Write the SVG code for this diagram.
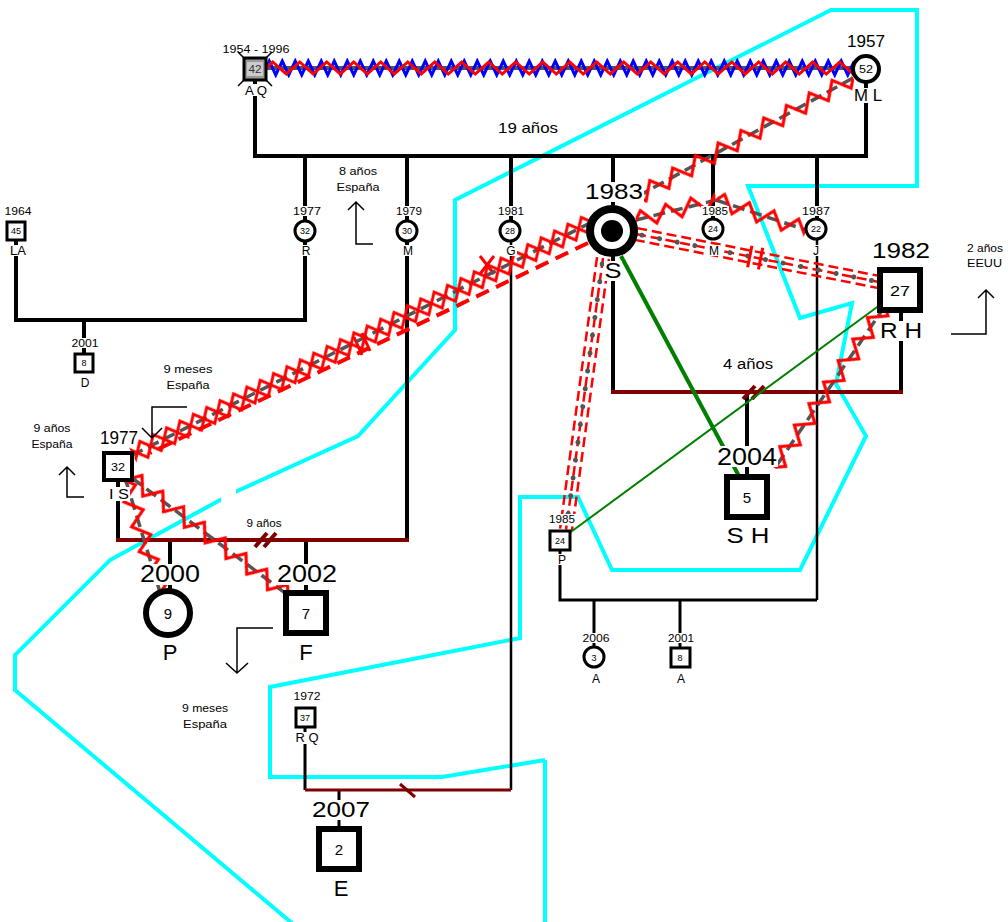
<svg xmlns="http://www.w3.org/2000/svg" width="1008" height="922" viewBox="0 0 1008 922">
<style>
text{font-family:"Liberation Sans",Arial,sans-serif;text-anchor:middle;fill:#000}
.bg{fill:#fff}
.k{stroke:#000;fill:none;stroke-width:4}
.k3{stroke:#000;fill:none;stroke-width:3}
.k2{stroke:#000;fill:none;stroke-width:2.5}
.dr{stroke:#800000;fill:none;stroke-width:4}
.dr3{stroke:#800000;fill:none;stroke-width:3}
.gd{stroke:#555;stroke-width:3.5;stroke-dasharray:12 6;fill:none}
.gs{stroke:#555;stroke-width:4;fill:none}
.rd{stroke:#f00;stroke-width:2.5;stroke-dasharray:10 5}
.gdot{stroke:#555;stroke-width:5;stroke-linecap:round;stroke-dasharray:0 18}
.rdash{stroke:#f00;stroke-width:4;stroke-dasharray:14 8;fill:none}
.rm{stroke:#f00;stroke-width:3}
.ar{stroke:#000;stroke-width:1.5;fill:none}
.cy{stroke:#00ffff;stroke-width:4;fill:none;stroke-linejoin:miter}
.s3{fill:#fff;stroke:#000;stroke-width:3}
.s4{fill:#fff;stroke:#000;stroke-width:4}
.s6{fill:#fff;stroke:#000;stroke-width:6}
.f9{font-size:9px}.f11{font-size:11px}.f12{font-size:12px}.f15{font-size:15px}.f22{font-size:22px}
</style>
<defs>
<pattern id="zr" x="0" y="-10" width="27" height="20" patternUnits="userSpaceOnUse"><path d="M-6.75,16 L6.75,4 L20.25,16 L33.75,4" stroke="#f00" stroke-width="3" fill="none"/></pattern>
<pattern id="zb" x="0" y="-10" width="13" height="20" patternUnits="userSpaceOnUse"><path d="M-3.25,17 L3.25,3 L9.75,17 L16.25,3" stroke="#0000ff" stroke-width="3" fill="none"/></pattern>
<pattern id="zA" x="0" y="-11" width="26" height="22" patternUnits="userSpaceOnUse"><path d="M-6.5,19 L6.5,3 L19.5,19 L32.5,3" stroke="#f00" stroke-width="3" fill="none"/></pattern>
<pattern id="zC" x="0" y="-12" width="30" height="24" patternUnits="userSpaceOnUse"><path d="M-7.5,21 L7.5,3 L22.5,21 L37.5,3" stroke="#f00" stroke-width="3" fill="none"/></pattern>
<pattern id="zD" x="0" y="-12" width="30" height="24" patternUnits="userSpaceOnUse"><path d="M-7.5,3 L7.5,21 L22.5,3 L37.5,21" stroke="#f00" stroke-width="3" fill="none"/></pattern>
</defs>

<g id="emotional-boundary">
<polyline class="cy" points="545,760 442,777 270,777 270,687 520,638 520,497 578,497 612,570 800,570 866,436 836,384 852,303 800,318 748,186 917,186 917,10 831,10 455,200 455,330 358,436 233,493 110,560 15,655 15,690 293,924 545,924 545,760"/>
<rect class="bg" x="221" y="488" width="15" height="15"/>
</g>

<g id="connectors">
<!-- family lines -->
<path class="k" d="M255,80 V156 H866 V82"/>
<path class="k" d="M305,156 V320 H16 V231"/>
<path class="k" d="M84,320 V355"/>
<path class="k" d="M407,156 V540"/>
<path class="k" d="M511,156 V222"/>
<path class="k2" d="M511,222 V790"/>
<path class="k" d="M613,156 V392"/>
<path class="k" d="M713,156 V229"/>
<path class="k" d="M817,156 V229"/>
<path class="k2" d="M817,229 V600"/>
<path class="k" d="M901,290 V392"/>
<path class="k" d="M747,392 V497"/>
<path class="k" d="M118,467 V540"/>
<path class="k" d="M170,540 V613"/>
<path class="k" d="M306,540 V613"/>
<path class="k3" d="M305,717 V790"/>
<path class="k3" d="M339,790 V849"/>
<path class="k3" d="M560,540 V600 H817"/>
<path class="k3" d="M594,600 V657"/>
<path class="k3" d="M680,600 V657"/>
<path class="dr" d="M611,392 H903"/>
<path class="dr" d="M116,540 H409"/>
<path class="dr3" d="M305,790 H511"/>
<path class="dr" d="M743,399 L755,386 M752,399 L764,386"/>
<path class="dr" d="M255,547 L267,533 M264,547 L276,533"/>
<path class="dr3" d="M400,784 L415,797"/>

<!-- AQ - ML -->
<g transform="translate(266,68)">
<line class="gs" x1="0" y1="0" x2="587" y2="0"/>
<rect x="0" y="-10" width="587" height="20" fill="url(#zb)"/>
<rect x="0" y="-10" width="587" height="20" fill="url(#zr)"/>
</g>

<!-- ML - S -->
<g transform="translate(853,78) rotate(151.2)">
<line class="gd" x1="0" y1="0" x2="243" y2="0"/>
<rect x="0" y="-11" width="243" height="22" fill="url(#zA)"/>
</g>

<!-- S - IS -->
<line class="rdash" x1="588" y1="243" x2="150" y2="453"/>
<path class="rm" d="M354,337 L362,355 M362,333 L370,351 M480,256 L494,274 M494,256 L480,274"/>
<g transform="translate(592,222) rotate(153.1)">
<line class="gd" x1="0" y1="0" x2="515" y2="0"/>
<rect x="0" y="-12" width="515" height="24" fill="url(#zC)"/>
<rect x="0" y="-12" width="515" height="24" fill="url(#zD)"/>
</g>

<!-- S - J -->
<g transform="translate(636,220) rotate(-14)">
<line class="gd" x1="0" y1="0" x2="83" y2="0"/>
<rect x="0" y="-11" width="83" height="22" fill="url(#zA)"/>
</g>
<g transform="translate(716,200) rotate(18.4)">
<line class="gd" x1="0" y1="0" x2="95" y2="0"/>
<rect x="0" y="-11" width="95" height="22" fill="url(#zA)"/>
</g>

<!-- S - RH -->
<g transform="translate(636,234) rotate(11.18)">
<line class="rd" x1="0" y1="-6" x2="253" y2="-6"/>
<line class="rd" x1="0" y1="0" x2="253" y2="0"/>
<line class="rd" x1="0" y1="6" x2="253" y2="6"/>
<line class="gdot" x1="6" y1="0" x2="253" y2="0"/>
<path class="rm" d="M116,-11 V11 M127,-11 V11"/>
</g>

<!-- S - P -->
<g transform="translate(603,258) rotate(97.75)">
<line class="rd" x1="0" y1="-6" x2="274" y2="-6"/>
<line class="rd" x1="0" y1="0" x2="274" y2="0"/>
<line class="rd" x1="0" y1="6" x2="274" y2="6"/>
<line class="gdot" x1="6" y1="0" x2="274" y2="0"/>
</g>

<!-- green -->
<line x1="621" y1="256" x2="740" y2="478" stroke="#008000" stroke-width="4"/>
<line x1="884" y1="302" x2="568" y2="534" stroke="#008000" stroke-width="2"/>

<!-- RH - SH -->
<g transform="translate(885,306) rotate(124.2)">
<line class="gd" x1="0" y1="0" x2="196" y2="0"/>
<rect x="0" y="-11" width="196" height="22" fill="url(#zA)"/>
</g>

<!-- IS - F -->
<g transform="translate(132,478) rotate(36.9)">
<line class="gd" x1="0" y1="0" x2="196" y2="0"/>
<rect x="0" y="-11" width="196" height="22" fill="url(#zA)"/>
</g>

<!-- IS - P -->
<g transform="translate(126,481) rotate(73)">
<line class="gd" x1="0" y1="0" x2="116" y2="0"/>
<rect x="0" y="-11" width="116" height="22" fill="url(#zA)"/>
</g>

<!-- migration arrows -->
<path class="ar" d="M373,244 H356 V202 M348,210 L356,202 L364,210"/>
<path class="ar" d="M951,334 H986 V290 M978,298 L986,290 L994,298"/>
<path class="ar" d="M187,407 H152 V438 M142,428 L152,438 L162,428"/>
<path class="ar" d="M84,497 H67 V467 M59,475 L67,467 L75,475"/>
<path class="ar" d="M273,628 H237 V673 M226,663 L237,673 L248,663"/>
</g>

<g id="labels">
<text class="f11" x="528" y="133" style="font-size:15px" textLength="60" lengthAdjust="spacingAndGlyphs">19 años</text>
<text class="f11" x="358" y="175" textLength="38" lengthAdjust="spacingAndGlyphs">8 años</text>
<text class="f11" x="358" y="191" textLength="43" lengthAdjust="spacingAndGlyphs">España</text>
<text class="f11" x="967" y="252" style="text-anchor:start" textLength="36" lengthAdjust="spacingAndGlyphs">2 años</text>
<text class="f11" x="967" y="267" style="text-anchor:start" textLength="35" lengthAdjust="spacingAndGlyphs">EEUU</text>
<text x="748" y="369" style="font-size:14px" textLength="50" lengthAdjust="spacingAndGlyphs">4 años</text>
<text class="f11" x="188" y="373" textLength="49" lengthAdjust="spacingAndGlyphs">9 meses</text>
<text class="f11" x="188" y="389" textLength="43" lengthAdjust="spacingAndGlyphs">España</text>
<text class="f11" x="52" y="432" textLength="37" lengthAdjust="spacingAndGlyphs">9 años</text>
<text class="f11" x="52" y="448" textLength="41" lengthAdjust="spacingAndGlyphs">España</text>
<text class="f11" x="264" y="527" textLength="35" lengthAdjust="spacingAndGlyphs">9 años</text>
<text class="f11" x="205" y="712" textLength="46" lengthAdjust="spacingAndGlyphs">9 meses</text>
<text class="f11" x="205" y="728" textLength="44" lengthAdjust="spacingAndGlyphs">España</text>
</g>

<g id="n-AQ">
<text class="f11" x="256" y="53" textLength="67" lengthAdjust="spacingAndGlyphs">1954 - 1996</text>
<rect x="244" y="58" width="22" height="22" fill="#999" stroke="#000" stroke-width="3"/>
<rect x="247" y="62" width="16" height="14" fill="#ccc"/>
<path d="M238,52 L245,59 M272,52 L265,59 M238,86 L245,79 M272,86 L265,79" stroke="#000" stroke-width="1.5"/>
<text x="255" y="73" style="font-size:10px;fill:#333" textLength="13" lengthAdjust="spacingAndGlyphs">42</text>
<rect class="bg" x="244" y="84" width="24" height="12"/>
<text x="256" y="95" style="font-size:13px" textLength="22" lengthAdjust="spacingAndGlyphs">A Q</text>
</g>

<g id="n-ML">
<text x="866" y="47" style="font-size:16px" textLength="38" lengthAdjust="spacingAndGlyphs">1957</text>
<circle class="s4" cx="866" cy="69" r="13"/>
<text class="f11" x="866" y="73" textLength="14" lengthAdjust="spacingAndGlyphs">52</text>
<rect class="bg" x="853" y="88" width="30" height="15"/>
<text x="868" y="101" style="font-size:16px" textLength="28" lengthAdjust="spacingAndGlyphs">M L</text>
</g>

<g id="n-LA">
<text class="f11" x="18" y="215" textLength="27" lengthAdjust="spacingAndGlyphs">1964</text>
<rect class="s3" x="7" y="222" width="18" height="18"/>
<text class="f9" x="16" y="234">45</text>
<rect class="bg" x="9" y="245" width="18" height="11"/>
<text class="f12" x="18" y="255" textLength="16" lengthAdjust="spacingAndGlyphs">LA</text>
</g>

<g id="n-R">
<rect class="bg" x="292" y="206" width="30" height="10"/>
<text class="f11" x="307" y="215" textLength="28" lengthAdjust="spacingAndGlyphs">1977</text>
<circle class="s3" cx="305" cy="231" r="10"/>
<text class="f9" x="305" y="234">32</text>
<rect class="bg" x="300" y="245" width="11" height="11"/>
<text class="f12" x="306" y="255">R</text>
</g>

<g id="n-D">
<rect class="bg" x="70" y="338" width="29" height="10"/>
<text class="f11" x="85" y="347" textLength="27" lengthAdjust="spacingAndGlyphs">2001</text>
<rect class="s3" x="75" y="354" width="18" height="18"/>
<text class="f9" x="84" y="366">8</text>
<text class="f12" x="85" y="387">D</text>
</g>

<g id="n-M79">
<rect class="bg" x="395" y="206" width="28" height="10"/>
<text class="f11" x="409" y="215" textLength="26" lengthAdjust="spacingAndGlyphs">1979</text>
<circle class="s3" cx="407" cy="231" r="10"/>
<text class="f9" x="407" y="234">30</text>
<rect class="bg" x="402" y="245" width="12" height="11"/>
<text class="f12" x="408" y="255">M</text>
</g>

<g id="n-G">
<rect class="bg" x="497" y="206" width="28" height="10"/>
<text class="f11" x="511" y="215" textLength="26" lengthAdjust="spacingAndGlyphs">1981</text>
<circle class="s3" cx="510" cy="231" r="10"/>
<text class="f9" x="510" y="234">28</text>
<rect class="bg" x="505" y="245" width="12" height="11"/>
<text class="f12" x="511" y="255">G</text>
</g>

<g id="n-S">
<rect class="bg" x="584" y="182" width="60" height="20"/>
<text class="f22" x="614" y="199" textLength="58" lengthAdjust="spacingAndGlyphs">1983</text>
<circle cx="612" cy="231" r="22" fill="#fff" stroke="#000" stroke-width="8"/>
<circle cx="612" cy="231" r="11" fill="#000"/>
<rect class="bg" x="604" y="261" width="18" height="20"/>
<text class="f22" x="613" y="278" textLength="17" lengthAdjust="spacingAndGlyphs">S</text>
</g>

<g id="n-M85">
<rect class="bg" x="701" y="206" width="28" height="10"/>
<text class="f11" x="715" y="215" textLength="26" lengthAdjust="spacingAndGlyphs">1985</text>
<circle class="s3" cx="713" cy="229" r="10"/>
<text class="f9" x="713" y="232">24</text>
<rect class="bg" x="708" y="245" width="12" height="11"/>
<text class="f12" x="714" y="255">M</text>
</g>

<g id="n-J">
<rect class="bg" x="801" y="206" width="30" height="10"/>
<text class="f11" x="816" y="215" textLength="28" lengthAdjust="spacingAndGlyphs">1987</text>
<circle class="s3" cx="816" cy="229" r="10"/>
<text class="f9" x="816" y="232">22</text>
<rect class="bg" x="811" y="245" width="10" height="11"/>
<text class="f12" x="816" y="255">J</text>
</g>

<g id="n-RH">
<text class="f22" x="901" y="258" textLength="58" lengthAdjust="spacingAndGlyphs">1982</text>
<rect class="s6" x="880" y="270" width="40" height="40"/>
<text class="f15" x="900" y="296" textLength="20" lengthAdjust="spacingAndGlyphs">27</text>
<rect class="bg" x="879" y="321" width="44" height="20"/>
<text class="f22" x="901" y="338" textLength="42" lengthAdjust="spacingAndGlyphs">R H</text>
</g>

<g id="n-SH">
<rect class="bg" x="716" y="446" width="62" height="21"/>
<text x="747" y="465" style="font-size:23px" textLength="60" lengthAdjust="spacingAndGlyphs">2004</text>
<rect class="s6" x="727" y="477" width="40" height="40"/>
<text class="f15" x="747" y="503">5</text>
<text class="f22" x="748" y="543" textLength="43" lengthAdjust="spacingAndGlyphs">S H</text>
</g>

<g id="n-IS">
<text x="119" y="444" style="font-size:18px" textLength="38" lengthAdjust="spacingAndGlyphs">1977</text>
<rect class="s4" x="104" y="453" width="28" height="27"/>
<text class="f11" x="118" y="471" textLength="14" lengthAdjust="spacingAndGlyphs">32</text>
<rect class="bg" x="108" y="487" width="22" height="14"/>
<text class="f15" x="119" y="499" textLength="20" lengthAdjust="spacingAndGlyphs">I S</text>
</g>

<g id="n-P">
<rect class="bg" x="139" y="564" width="62" height="21"/>
<text x="170" y="582" style="font-size:23px" textLength="60" lengthAdjust="spacingAndGlyphs">2000</text>
<circle class="s6" cx="168" cy="613" r="22"/>
<text class="f15" x="168" y="619">9</text>
<text class="f22" x="170" y="660">P</text>
</g>

<g id="n-F">
<rect class="bg" x="276" y="564" width="62" height="21"/>
<text x="307" y="582" style="font-size:23px" textLength="60" lengthAdjust="spacingAndGlyphs">2002</text>
<rect class="s6" x="286" y="593" width="40" height="40"/>
<text class="f15" x="306" y="619">7</text>
<text class="f22" x="306" y="660">F</text>
</g>

<g id="n-RQ">
<text class="f11" x="307" y="700" textLength="27" lengthAdjust="spacingAndGlyphs">1972</text>
<rect class="s3" x="296" y="708" width="19" height="19"/>
<text class="f9" x="305" y="721">37</text>
<rect class="bg" x="294" y="732" width="26" height="12"/>
<text class="f12" x="307" y="742" textLength="23" lengthAdjust="spacingAndGlyphs">R Q</text>
</g>

<g id="n-E">
<rect class="bg" x="311" y="800" width="60" height="20"/>
<text class="f22" x="341" y="817" textLength="58" lengthAdjust="spacingAndGlyphs">2007</text>
<rect class="s6" x="319" y="829" width="40" height="40"/>
<text class="f15" x="339" y="855">2</text>
<text class="f22" x="341" y="896">E</text>
</g>

<g id="n-P85">
<rect class="bg" x="548" y="514" width="28" height="11"/>
<text class="f11" x="562" y="523" textLength="26" lengthAdjust="spacingAndGlyphs">1985</text>
<rect class="s3" x="550" y="531" width="20" height="19"/>
<text class="f9" x="560" y="544">24</text>
<rect class="bg" x="556" y="554" width="12" height="11"/>
<text class="f12" x="562" y="564">P</text>
</g>

<g id="n-A06">
<rect class="bg" x="581" y="633" width="30" height="10"/>
<text class="f11" x="596" y="642" textLength="27" lengthAdjust="spacingAndGlyphs">2006</text>
<circle class="s3" cx="594" cy="657" r="10"/>
<text class="f9" x="594" y="661">3</text>
<text class="f12" x="596" y="683">A</text>
</g>

<g id="n-A01">
<rect class="bg" x="667" y="633" width="28" height="10"/>
<text class="f11" x="681" y="642" textLength="26" lengthAdjust="spacingAndGlyphs">2001</text>
<rect class="s3" x="671" y="648" width="19" height="19"/>
<text class="f9" x="680" y="661">8</text>
<text class="f12" x="681" y="683">A</text>
</g>
</svg>
